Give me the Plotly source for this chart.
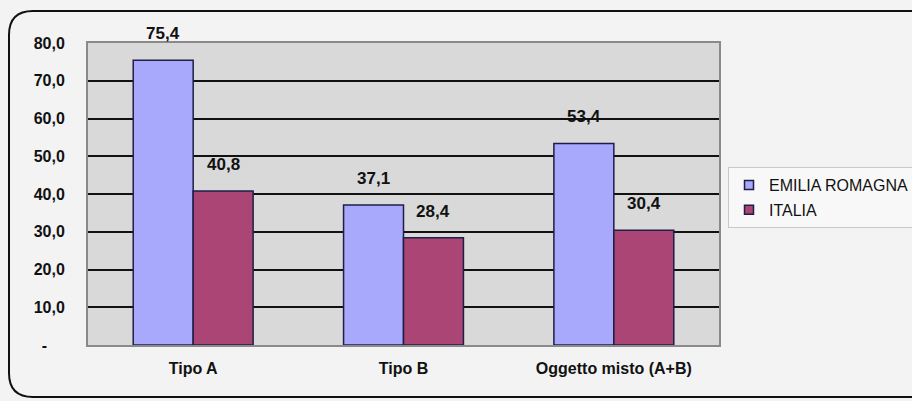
import plotly.graph_objects as go

categories = ["Tipo A", "Tipo B", "Oggetto misto (A+B)"]
emilia = [75.4, 37.1, 53.4]
italia = [40.8, 28.4, 30.4]
series_names = ["EMILIA ROMAGNA", "ITALIA"]
tick_vals = [0, 10, 20, 30, 40, 50, 60, 70, 80]
tick_text = ["-\u00a0\u00a0\u00a0\u00a0", "10,0", "20,0", "30,0", "40,0", "50,0", "60,0", "70,0", "80,0"]

W, H = 912, 401
L, R, T, B = 88, 193, 43, 56
pw, ph = W - L - R, H - T - B

blue = "#A8A8FC"
red = "#AA4576"
outline = "#1E1E48"

def fmt(v):
    return f"{v:.1f}".replace(".", ",")

fig = go.Figure()
for name, vals, col, grp in [(series_names[0], emilia, blue, "a"), (series_names[1], italia, red, "b")]:
    fig.add_trace(go.Bar(
        x=categories, y=vals, name=name, legendgroup=grp, showlegend=False,
        marker=dict(color=col, line=dict(color=outline, width=1.5)),
        hoverinfo="skip",
    ))
    fig.add_trace(go.Scatter(
        x=[None], y=[None], mode="markers", name=name, legendgroup=grp,
        marker=dict(symbol="square", size=9, color=col, line=dict(color=outline, width=1.5)),
    ))

bargap = 0.43
bw = (1 - bargap) / 2
for i in range(len(categories)):
    for vals, off in [(emilia, -bw / 2), (italia, bw / 2)]:
        fig.add_annotation(
            x=i + off, y=vals[i], xref="x", yref="y", text=fmt(vals[i]),
            showarrow=False, yanchor="bottom", yshift=15,
            font=dict(family="Liberation Sans, Arial", size=17, color="#111111", weight="bold"),
        )

def P(px, py):
    a, b = (px - L) / pw, (H - B - py) / ph
    return f"{a:.5f},{b:.5f}"

# rounded outer frame (right side runs off-canvas)
x0, y0, x1, y1, r = 9, 11, 940, 397, 24
path = (f"M {P(x0, y1 - r)} L {P(x0, y0 + r)} Q {P(x0, y0)} {P(x0 + r, y0)} "
        f"L {P(x1 - r, y0)} Q {P(x1, y0)} {P(x1, y0 + r)} L {P(x1, y1 - r)} "
        f"Q {P(x1, y1)} {P(x1 - r, y1)} L {P(x0 + r, y1)} Q {P(x0, y1)} {P(x0, y1 - r)} Z")
fig.add_shape(type="path", path=path, xref="paper", yref="paper",
              line=dict(color="#111111", width=2), layer="below")

fig.update_layout(
    width=W, height=H,
    margin=dict(l=L, r=R, t=T, b=B, autoexpand=False),
    paper_bgcolor="#F3F3F3",
    plot_bgcolor="#D9D9D9",
    barmode="group", bargap=bargap, bargroupgap=0,
    font=dict(family="Liberation Sans, Arial", color="#111111"),
    showlegend=True,
    legend=dict(
        x=(728 - L) / pw, y=(H - B - 167) / ph, xanchor="left", yanchor="top",
        bgcolor="#F8F8F8", bordercolor="#C8C8C8", borderwidth=1,
        font=dict(size=16, color="#111111"),
        traceorder="grouped", tracegroupgap=1, itemwidth=30,
    ),
    xaxis=dict(
        showgrid=False, showline=True, mirror=True, linecolor="#8A8A8A", linewidth=2,
        tickfont=dict(size=16, weight="bold"), ticks="", ticklabelstandoff=8,
        fixedrange=True,
    ),
    yaxis=dict(
        range=[0, 80], tickvals=tick_vals, ticktext=tick_text,
        showgrid=True, gridcolor="#111111", gridwidth=2,
        showline=True, mirror=True, linecolor="#8A8A8A", linewidth=2,
        zeroline=False, ticks="", ticklabelstandoff=18,
        tickfont=dict(size=16, weight="bold"), fixedrange=True,
    ),
)

fig.write_html("out.html")
